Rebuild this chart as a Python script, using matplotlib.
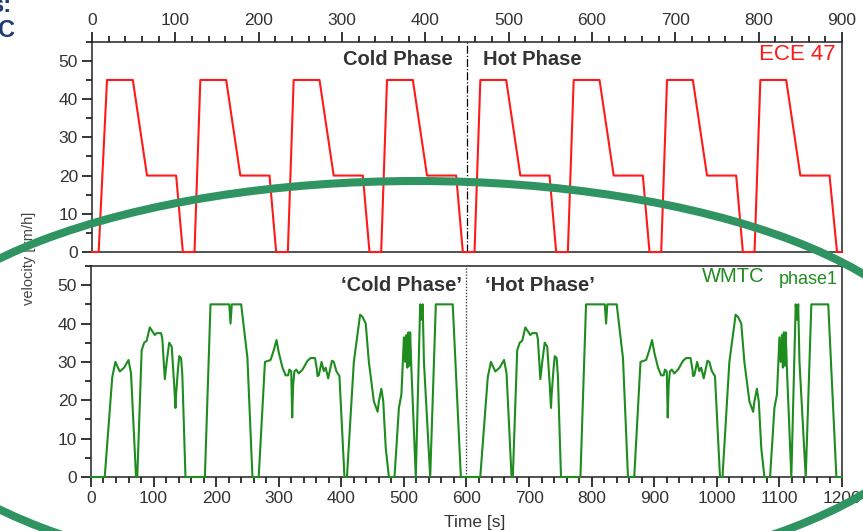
import matplotlib
matplotlib.use("Agg")
import matplotlib.pyplot as plt
from matplotlib.patches import Ellipse
from matplotlib.ticker import MultipleLocator
import numpy as np

plt.rcParams['font.family'] = ['Liberation Sans', 'DejaVu Sans']

# ECE 47 cycle, knots (time s, speed km/h)
ece_t = [0, 8, 18, 49, 66, 101, 109,
         123, 130, 161, 178, 213, 221,
         235, 242, 273, 290, 325, 333,
         347, 354, 385, 402, 437, 445,
         459, 466, 497, 514, 549, 557,
         571, 578, 609, 626, 661, 669,
         683, 690, 721, 738, 773, 781,
         795, 802, 833, 850, 885, 894, 900]
ece_v = [0, 0, 45, 45, 20, 20, 0,
         0, 45, 45, 20, 20, 0,
         0, 45, 45, 20, 20, 0,
         0, 45, 45, 20, 20, 0,
         0, 45, 45, 20, 20, 0,
         0, 45, 45, 20, 20, 0,
         0, 45, 45, 20, 20, 0,
         0, 45, 45, 20, 20, 0, 0]

# WMTC phase 1, cold part (0-600 s); the hot part repeats it from 600 s
wmtc_t = [0, 22, 34, 39, 46, 53, 60, 64, 72, 74, 81, 85, 89, 94, 98, 102, 105,
          112, 114, 118, 121, 125, 129, 133, 135, 136, 139, 141, 144, 146, 151,
          182, 191, 221, 223, 225, 240, 250, 258, 268, 278, 287, 292, 296.5,
          300, 306, 311, 315, 317, 320, 321.5, 323, 325, 328, 332, 338, 346,
          351, 358, 361, 362, 364, 368.5, 372, 375, 379, 385, 388, 392, 397,
          405, 409, 420, 430, 434, 439, 444, 452, 458, 460, 464, 467, 471,
          476, 485, 492, 496, 500, 502, 504, 505.5, 507, 508.5, 510, 512, 519,
          526, 528, 530, 532, 542, 551, 578, 591, 600]
wmtc_v = [0, 0, 26, 30, 27.5, 28.5, 30.5, 27, 0, 0, 33, 35, 35.5, 39, 38, 37,
          37.5, 37.5, 36, 25.5, 30, 35, 34, 24, 18, 21.5, 28, 31.5, 31, 26.5, 0,
          0, 45, 45, 40, 45, 45, 31, 0, 0, 30, 30.5, 33, 35.7,
          32.5, 28.5, 26.5, 26.5, 28, 27.5, 15.5, 24, 27.5, 28, 27, 28, 30.3,
          31, 31, 28, 26.3, 26.5, 30, 27.6, 28.5, 25.7, 30.3, 30, 27.6, 26.3,
          0, 0, 30, 42.3, 41.7, 40, 30, 19.7, 17, 19.7, 23, 19.7, 7.5,
          0, 0, 18, 21.5, 36.4, 30, 37, 28.5, 37.7, 29, 37.7, 28, 0,
          45, 41, 45, 30, 0, 45, 45, 0, 0]

wmtc_full_t = np.concatenate([wmtc_t, np.array(wmtc_t[1:]) + 600])
wmtc_full_v = np.concatenate([wmtc_v, wmtc_v[1:]])

red = '#ff1a1a'
green = '#1e8c1e'
txt = '#333333'

fig = plt.figure(figsize=(8.63, 5.31), dpi=100)
ax1 = fig.add_axes([0.1066, 0.5254, 0.8691, 0.3960])
ax2 = fig.add_axes([0.1054, 0.1017, 0.8703, 0.3974])

ax1.plot(ece_t, ece_v, color=red, lw=1.5, clip_on=False, zorder=3)
ax1.set_xlim(0, 900)
ax1.set_ylim(0, 55)
ax1.axvline(450, color='black', lw=0.9, ls='-.', zorder=2)
ax1.xaxis.set_major_locator(MultipleLocator(100))
ax1.xaxis.set_minor_locator(MultipleLocator(20))
ax1.tick_params(axis='x', which='both', top=True, bottom=False,
                labeltop=True, labelbottom=False, direction='out')
ax1.text(433, 50.3, 'Cold Phase', ha='right', va='center', fontsize=14.5,
         fontweight='bold', color=txt)
ax1.text(469, 50.3, 'Hot Phase', ha='left', va='center', fontsize=14.5,
         fontweight='bold', color=txt)
ax1.text(892, 51.6, 'ECE 47', ha='right', va='center', fontsize=16,
         color=red)

ax2.plot(wmtc_full_t, wmtc_full_v, color=green, lw=1.5, clip_on=False,
         zorder=3)
ax2.set_xlim(0, 1200)
ax2.set_ylim(0, 55)
ax2.axvline(600, color='#444444', lw=1.0, ls=(0, (1, 1.2)), zorder=2)
ax2.xaxis.set_major_locator(MultipleLocator(100))
ax2.xaxis.set_minor_locator(MultipleLocator(20))
ax2.tick_params(axis='x', which='both', direction='out')
ax2.text(593, 50, '\u2018Cold Phase\u2019', ha='right', va='center',
         fontsize=14.5, fontweight='bold', color=txt)
ax2.text(629, 50, '\u2018Hot Phase\u2019', ha='left', va='center',
         fontsize=14.5, fontweight='bold', color=txt)
ax2.text(1076, 50.7, 'WMTC', ha='right', va='baseline', fontsize=14.5,
         color=green)
ax2.text(1194, 50.3, 'phase1', ha='right', va='baseline', fontsize=13,
         color=green)

for ax in (ax1, ax2):
    ax.yaxis.set_major_locator(MultipleLocator(10))
    ax.yaxis.set_minor_locator(MultipleLocator(5))
    ax.tick_params(axis='y', which='both', left=True, right=False,
                   direction='out')
    ax.tick_params(which='major', length=7, width=1.1, labelsize=12.5,
                   labelcolor=txt, pad=3)
    ax.tick_params(which='minor', length=4.5, width=1.1)
    for s in ax.spines.values():
        s.set_linewidth(1.1)
        s.set_color('#222222')

fig.text(29 / 863, 1 - 258 / 531, 'velocity [km/h]', rotation=90,
         ha='center', va='center', fontsize=10.5, color='#444444')
fig.text(475 / 863, 1 - 522 / 531, 'Time [s]', ha='center', va='center',
         fontsize=12.5, color=txt)

# slide title fragments cut off at the top left
fig.text(-0.012, 1 - 12 / 531, 's:', ha='left', va='baseline', fontsize=17,
         fontweight='bold', color='#1f3c78')
fig.text(-0.002, 1 - 37 / 531, 'C', ha='left', va='baseline', fontsize=17,
         fontweight='bold', color='#1f3c78')

# green highlight ellipse drawn over the slide
ell = Ellipse((417 / 863, 1 - 384 / 531), 1062 / 863, 406 / 531,
              transform=fig.transFigure, fill=False, edgecolor='#2f9462',
              lw=5.8, zorder=10, clip_on=False)
fig.add_artist(ell)

fig.savefig('out.png', dpi=100)
